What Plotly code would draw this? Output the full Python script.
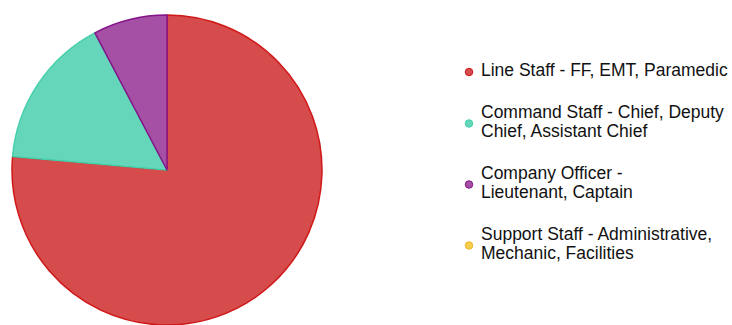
import plotly.graph_objects as go

# Staffing mix by role group
categories = [
    "Line Staff - FF, EMT, Paramedic",
    "Command Staff - Chief, Deputy<br>Chief, Assistant Chief",
    "Company Officer -<br>Lieutenant, Captain",
    "Support Staff - Administrative,<br>Mechanic, Facilities",
]
shares = [76.4, 15.9, 7.7, 0.0]
fill_colors = ["#d64b4b", "#66d6bb", "#a54fa5", "#f7cd4b"]
edge_colors = ["#d01818", "#45cfaa", "#85148a", "#eab82a"]

W, H = 732, 325
FONT = "Liberation Sans, Arial, sans-serif"

fig = go.Figure()

# Pie, starting at 12 o'clock and running clockwise; empty slices get no outline
fig.add_trace(go.Pie(
    labels=[c.replace("<br>", " ") for c in categories],
    values=shares,
    sort=False,
    direction="clockwise",
    rotation=0,
    textinfo="none",
    hoverinfo="label+percent",
    marker=dict(
        colors=fill_colors,
        line=dict(color=edge_colors, width=[1.5 if v > 0 else 0 for v in shares]),
    ),
    domain=dict(x=[12 / W, 322 / W], y=[0, 310 / H]),
    showlegend=False,
))

# Key on the right: one dot per category, wrapped labels stacked line by line
key_x, text_x = 469, 481
line_h, gap = 19, 23
y_edge = 72 - line_h / 2
dot_y, txt_x, txt_y, txt = [], [], [], []
for label in categories:
    lines = label.split("<br>")
    n = len(lines)
    center = y_edge + n * line_h / 2
    dot_y.append(center)
    for j, ln in enumerate(lines):
        txt_x.append(text_x)
        txt_y.append(center + (j - (n - 1) / 2) * line_h)
        txt.append(ln)
    y_edge += n * line_h + gap

fig.add_trace(go.Scatter(
    x=[key_x] * len(categories), y=dot_y, mode="markers",
    marker=dict(size=7.5, color=fill_colors, line=dict(color=edge_colors, width=1)),
    hoverinfo="skip", showlegend=False,
))
fig.add_trace(go.Scatter(
    x=txt_x, y=txt_y, mode="text", text=txt,
    textposition="middle right",
    textfont=dict(family=FONT, size=17.5, color="#111111"),
    hoverinfo="skip", showlegend=False,
))

fig.update_layout(
    width=W, height=H,
    margin=dict(l=0, r=0, t=0, b=0),
    paper_bgcolor="white", plot_bgcolor="white",
    font=dict(family=FONT),
    xaxis=dict(range=[0, W], visible=False, fixedrange=True, domain=[0, 1]),
    yaxis=dict(range=[H, 0], visible=False, fixedrange=True, domain=[0, 1]),
)

fig.write_html("out.html")
